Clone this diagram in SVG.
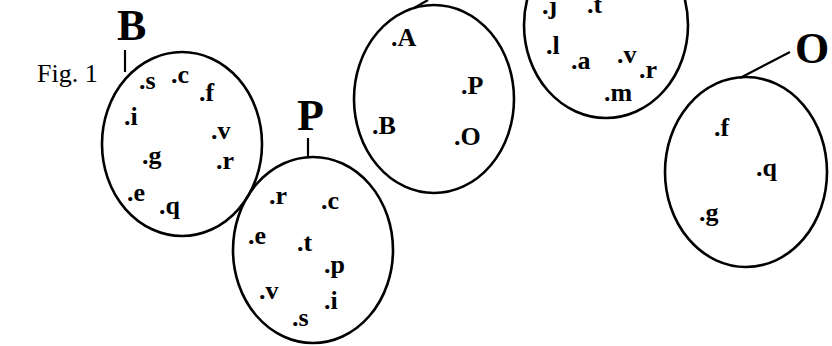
<svg xmlns="http://www.w3.org/2000/svg" width="832" height="346" viewBox="0 0 832 346">
<style>
.e{fill:none;stroke:#000;stroke-width:2.6}
.l{fill:none;stroke:#000;stroke-width:2.2}
.t{font-family:"Liberation Serif","Times New Roman",serif;font-weight:bold;font-size:26px;fill:#000}
.big{font-family:"Liberation Serif","Times New Roman",serif;font-weight:bold;font-size:44px;fill:#000}
.fig{font-family:"Liberation Serif","Times New Roman",serif;font-size:26px;fill:#000}
</style>
<rect width="832" height="346" fill="#fff"/>
<text class="fig" x="37" y="82">Fig. 1</text>
<g id="connectors">
<line class="l" x1="125" y1="50" x2="125" y2="72"/>
<line class="l" x1="308" y1="138" x2="308" y2="157"/>
<path class="l" d="M414,8 L428,0"/>
<path class="l" d="M740,78 L790,52"/>
</g>
<g id="setB">
<ellipse class="e" cx="182" cy="144" rx="80" ry="92"/>
<text class="big" x="117" y="40">B</text>
<text class="t" x="139" y="89">.s</text>
<text class="t" x="171" y="83">.c</text>
<text class="t" x="199" y="101">.f</text>
<text class="t" x="124" y="125">.i</text>
<text class="t" x="211" y="139">.v</text>
<text class="t" x="142" y="164">.g</text>
<text class="t" x="216" y="169">.r</text>
<text class="t" x="127" y="201">.e</text>
<text class="t" x="159" y="214">.q</text>
</g>
<g id="setP">
<ellipse class="e" cx="313" cy="250" rx="80" ry="93"/>
<text class="big" x="297" y="130">P</text>
<text class="t" x="269" y="204">.r</text>
<text class="t" x="321" y="209">.c</text>
<text class="t" x="248" y="244">.e</text>
<text class="t" x="297" y="251">.t</text>
<text class="t" x="324" y="273">.p</text>
<text class="t" x="259" y="299">.v</text>
<text class="t" x="324" y="309">.i</text>
<text class="t" x="292" y="326">.s</text>
</g>
<g id="setMid">
<ellipse class="e" cx="434" cy="99" rx="80" ry="94"/>
<text class="t" x="391" y="46">.A</text>
<text class="t" x="461" y="94">.P</text>
<text class="t" x="372" y="134">.B</text>
<text class="t" x="454" y="145">.O</text>
</g>
<g id="setTop">
<ellipse class="e" cx="606" cy="25" rx="82" ry="93"/>
<text class="t" x="542" y="14">.j</text>
<text class="t" x="587" y="13">.t</text>
<text class="t" x="546" y="54">.l</text>
<text class="t" x="571" y="69">.a</text>
<text class="t" x="617" y="63">.v</text>
<text class="t" x="639" y="78">.r</text>
<text class="t" x="604" y="101">.m</text>
</g>
<g id="setO">
<ellipse class="e" cx="746" cy="172" rx="81" ry="95"/>
<text class="big" x="795" y="63">O</text>
<text class="t" x="714" y="136">.f</text>
<text class="t" x="756" y="176">.q</text>
<text class="t" x="699" y="221">.g</text>
</g>
</svg>
